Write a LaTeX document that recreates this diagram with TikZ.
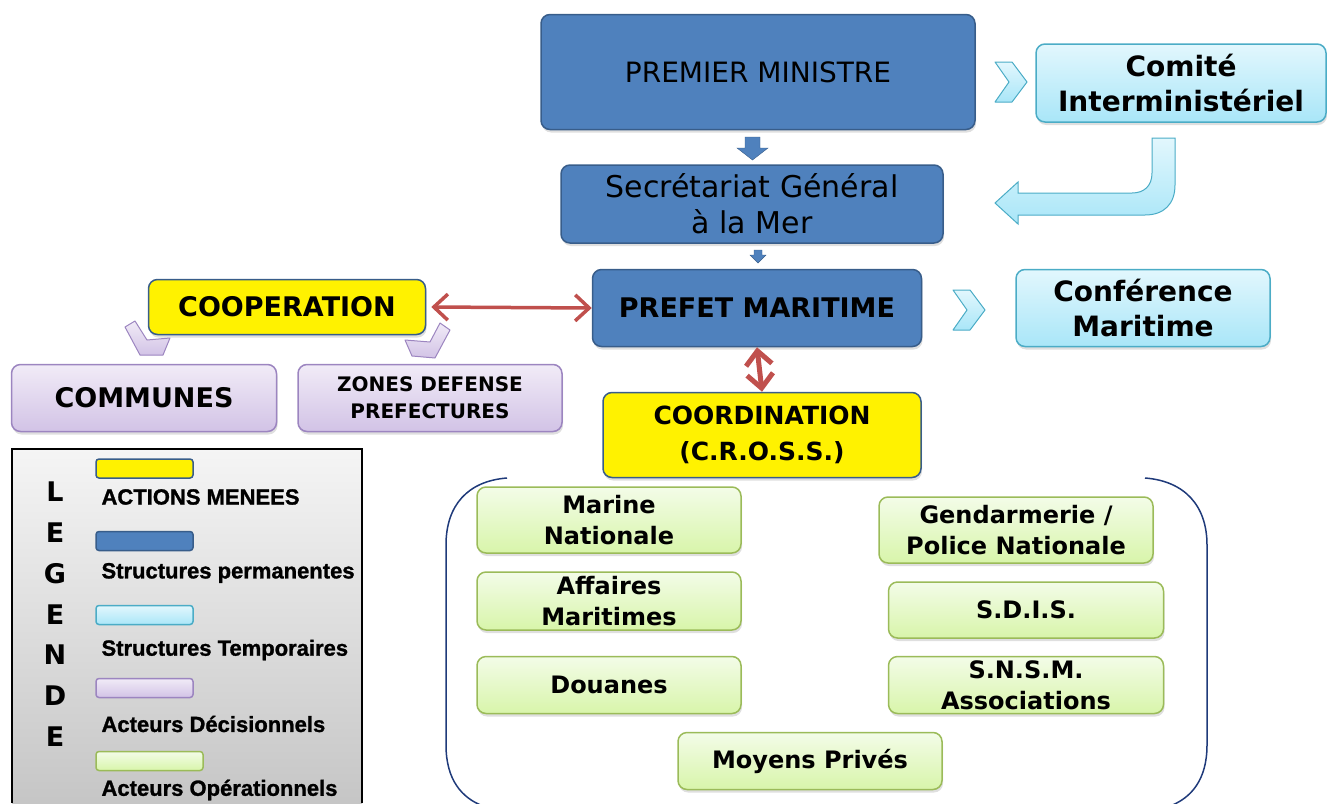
\documentclass[tikz,border=0pt]{standalone}
\usepackage{fontspec}
\setmainfont{DejaVu Sans}
\newfontfamily\legfont[BoldFeatures={FakeBold=1.2}]{Liberation Sans}
\usetikzlibrary{arrows.meta,shadows}

\definecolor{permfill}{HTML}{4F81BD}
\definecolor{permline}{HTML}{385D8A}
\definecolor{temptop}{HTML}{E2F7FD}
\definecolor{tempbot}{HTML}{A9E6F8}
\definecolor{templine}{HTML}{4BACC6}
\definecolor{dectop}{HTML}{F1EBF7}
\definecolor{decbot}{HTML}{D2C3E6}
\definecolor{decline}{HTML}{9C85C0}
\definecolor{optop}{HTML}{F3FCE8}
\definecolor{opbot}{HTML}{D8F5AA}
\definecolor{opline}{HTML}{9BBB59}
\definecolor{linkred}{HTML}{C0504D}
\definecolor{bracketblue}{HTML}{1F3A7A}

\tikzset{
  box/.style={rounded corners=9pt,line width=1.5pt,align=center,inner sep=0pt,
    drop shadow={opacity=0.25,shadow xshift=1pt,shadow yshift=-3pt}},
  permbox/.style={box,draw=permline,fill=permfill},
  actbox/.style={box,draw=permline,fill=yellow},
  tempbox/.style={box,draw=templine,top color=temptop,bottom color=tempbot},
  decbox/.style={box,draw=decline,top color=dectop,bottom color=decbot},
  opbox/.style={box,draw=opline,top color=optop,bottom color=opbot,
    font=\bfseries\fontsize{24}{31}\selectfont},
  swatch/.style={rounded corners=3pt,minimum width=97pt,minimum height=19pt,line width=1.5pt},
  legtext/.style={anchor=west,font=\legfont\bfseries\fontsize{22}{24}\selectfont},
  redlink/.style={draw=linkred,line width=3.5pt,
    {Straight Barb[length=14pt,width=26pt]}-{Straight Barb[length=14pt,width=26pt]}},
  chev/.style={line width=1pt,line join=round}
}

\begin{document}
\begin{tikzpicture}[x=1pt,y=-1pt]
\useasboundingbox (0,0) rectangle (1327,803);

% structures permanentes
\node[permbox,minimum width=434pt,minimum height=115pt,
  font=\fontsize{28}{34}\selectfont] (pm) at (758,72) {PREMIER MINISTRE};
\node[permbox,minimum width=382pt,minimum height=78pt,
  font=\fontsize{30}{36}\selectfont] (sg) at (752,204) {Secrétariat Général\\à la Mer};
\node[permbox,minimum width=329pt,minimum height=77pt,
  font=\bfseries\fontsize{27}{34}\selectfont] (prefet) at (757,308) {PREFET MARITIME};

% structures temporaires
\node[tempbox,minimum width=290pt,minimum height=78pt,
  font=\bfseries\fontsize{28}{35}\selectfont] (comite) at (1181,83) {Comité\\Interministériel};
\node[tempbox,minimum width=254pt,minimum height=77pt,
  font=\bfseries\fontsize{28}{35}\selectfont] (conf) at (1143,308) {Conférence\\Maritime};

% actions menees
\node[actbox,minimum width=277pt,minimum height=55pt,
  font=\bfseries\fontsize{27}{32}\selectfont] (coop) at (287,307) {COOPERATION};
\node[actbox,minimum width=318pt,minimum height=85pt,
  font=\bfseries\fontsize{25}{36}\selectfont] (coord) at (762,435) {COORDINATION\\(C.R.O.S.S.)};

% acteurs decisionnels
\node[decbox,minimum width=265pt,minimum height=67pt,
  font=\bfseries\fontsize{27}{32}\selectfont] (communes) at (144,398) {COMMUNES};
\node[decbox,minimum width=264pt,minimum height=67pt,
  font=\bfseries\fontsize{20}{27}\selectfont] (zones) at (430,398) {ZONES DEFENSE\\PREFECTURES};

% acteurs operationnels
\node[opbox,minimum width=264pt,minimum height=66pt] (marine) at (609,520) {Marine\\Nationale};
\node[opbox,minimum width=264pt,minimum height=58pt] (affaires) at (609,601) {Affaires\\Maritimes};
\node[opbox,minimum width=264pt,minimum height=57pt] (douanes) at (609,685) {Douanes};
\node[opbox,minimum width=264pt,minimum height=57pt] (moyens) at (810,761) {Moyens Privés};
\node[opbox,minimum width=274pt,minimum height=66pt] (gend) at (1016,530) {Gendarmerie /\\Police Nationale};
\node[opbox,minimum width=275pt,minimum height=56pt] (sdis) at (1026,610) {S.D.I.S.};
\node[opbox,minimum width=275pt,minimum height=57pt] (snsm) at (1026,685) {S.N.S.M.\\Associations};

% accolades autour des acteurs
\draw[bracketblue,line width=1.5pt] (507,478) .. controls (468,481) and (446,505) .. (446,545)
  -- (446,745) .. controls (446,780) and (462,798) .. (483,806);
\draw[bracketblue,line width=1.5pt] (1145,478) .. controls (1184,481) and (1207,505) .. (1207,545)
  -- (1207,745) .. controls (1207,780) and (1191,798) .. (1170,806);

% fleches
\fill[permfill,draw=permline] (745,137) -- (760,137) -- (760,148) -- (768,148) -- (752.5,160)
  -- (737,148) -- (745,148) -- cycle;
\fill[permfill,draw=permline] (754,250) -- (762,250) -- (762,255) -- (766,255) -- (758,263)
  -- (750,255) -- (754,255) -- cycle;
\draw[redlink] ([xshift=5pt]coop.east) -- (prefet.west);
\draw[redlink,line width=5pt] (prefet.south) -- (coord.north);

\draw[templine,top color=temptop,bottom color=tempbot,line width=1pt]
  (1152,138) -- (1175,138) -- (1175,185) .. controls (1175,204) and (1164,215) .. (1145,215)
  -- (1018,215) -- (1018,224) -- (995,203) -- (1018,182) -- (1018,193) -- (1132,193)
  .. controls (1144,193) and (1152,186) .. (1152,173) -- cycle;

% chevrons
\foreach \cx/\cy in {995/62,953/290}
  \draw[chev,templine,top color=temptop,bottom color=tempbot]
    (\cx,\cy) -- (\cx+17,\cy) -- (\cx+32,\cy+20) -- (\cx+17,\cy+40) -- (\cx,\cy+40)
    -- (\cx+14,\cy+20) -- cycle;
\draw[chev,decline,top color=dectop,bottom color=decbot]
  (125,327) -- (135,321) -- (147,340) -- (170,338) -- (163,355) -- (140,355) -- cycle;
\draw[chev,decline,top color=dectop,bottom color=decbot]
  (450,330) -- (440,323) -- (430,342) -- (405,340) -- (412,356) -- (435,358) -- cycle;

% legende
\shade[top color=gray!8,bottom color=gray!45] (12,449) rectangle (362,803);
\draw[line width=1.5pt] (12,803) -- (12,449) -- (362,449) -- (362,803);
\foreach \l [count=\i] in {L,E,G,E,N,D,E}
  \node[font=\bfseries\fontsize{27}{30}\selectfont] (leg\i) at (55,451+40.8*\i) {\l};
\node[swatch,draw=permline,fill=yellow] (swact) at (144.5,468.5) {};
\node[swatch,draw=permline,fill=permfill] (swperm) at (144.5,541) {};
\node[swatch,draw=templine,top color=temptop,bottom color=tempbot] (swtemp) at (144.5,615) {};
\node[swatch,draw=decline,top color=dectop,bottom color=decbot] (swdec) at (144.5,688) {};
\node[swatch,draw=opline,top color=optop,bottom color=opbot,minimum width=107pt] (swop) at (149.5,761) {};
\node[legtext] (txact) at (98,497) {ACTIONS MENEES};
\node[legtext] (txperm) at (98,573) {Structures permanentes};
\node[legtext] (txtemp) at (98,650) {Structures Temporaires};
\node[legtext] (txdec) at (98,724) {Acteurs Décisionnels};
\node[legtext] (txop) at (98,790) {Acteurs Opérationnels};
\end{tikzpicture}
\end{document}
